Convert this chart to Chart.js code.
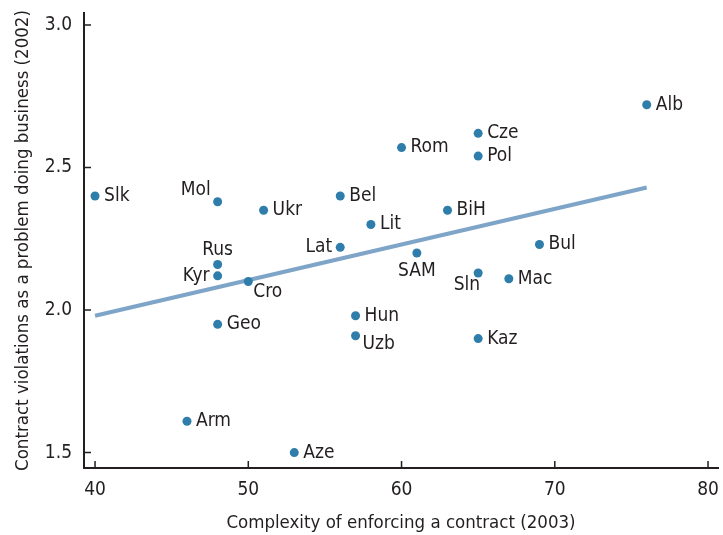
<!DOCTYPE html>
<html>
<head>
<meta charset="utf-8" />
<title>Contract violations vs complexity</title>
<script src="https://cdn.jsdelivr.net/npm/chart.js"></script>
<style>
	html, body { margin: 0; padding: 0; background: #fff; }
	#wrap { width: 723px; height: 535px; }
</style>
<script>
	// data
	const countries = ["Slk", "Mol", "Rus", "Kyr", "Cro", "Geo", "Arm", "Aze", "Ukr", "Bel", "Lit", "Lat",
		"SAM", "BiH", "Rom", "Cze", "Pol", "Alb", "Bul", "Sln", "Mac", "Hun", "Uzb", "Kaz"];
	const complexity = [40, 48, 48, 48, 50, 48, 46, 53, 51, 56, 58, 56,
		61, 63, 60, 65, 65, 76, 69, 65, 67, 57, 57, 65];
	const violations = [2.40, 2.38, 2.16, 2.12, 2.10, 1.95, 1.61, 1.50, 2.35, 2.40, 2.30, 2.22,
		2.20, 2.35, 2.57, 2.62, 2.54, 2.72, 2.23, 2.13, 2.11, 1.98, 1.91, 1.90];
	const trendX = [40, 76];
	const trendY = [1.98, 2.43];
	const xTicks = [40, 50, 60, 70, 80];
	const yTicks = [1.5, 2.0, 2.5, 3.0];

	// where each label sits relative to its dot (default: right)
	const labelPlace = {
		Mol: [-7, -12, "right"],
		Rus: [0, -14, "center"],
		Kyr: [-8, 0, "right"],
		Lat: [-8, 0, "right"],
		SAM: [0, 18, "center"],
		Sln: [2, 12, "right"],
		Cro: [5, 11, "left"],
		Uzb: [7, 8, "left"]
	};

	const FONT = '"Liberation Sans Narrow", "DejaVu Sans Condensed", sans-serif';
	const INK = "#231f20";

	document.addEventListener("DOMContentLoaded", function () {
		const points = countries.map((c, i) => ({ x: complexity[i], y: violations[i] }));
		const trend = trendX.map((x, i) => ({ x: x, y: trendY[i] }));

		const labelPlugin = {
			id: "pointLabels",
			afterDatasetsDraw(chart) {
				const ctx = chart.ctx;
				const meta = chart.getDatasetMeta(1);
				ctx.save();
				ctx.font = "19px " + FONT;
				ctx.fillStyle = INK;
				ctx.textBaseline = "middle";
				meta.data.forEach((el, i) => {
					const name = countries[i];
					const p = labelPlace[name] || [9, 0, "left"];
					ctx.textAlign = p[2];
					ctx.fillText(name, el.x + p[0], el.y + p[1]);
				});
				ctx.restore();
			}
		};

		// short tick marks pointing into the plot
		const innerTicks = {
			id: "innerTicks",
			afterDraw(chart) {
				const ctx = chart.ctx;
				const xs = chart.scales.x, ys = chart.scales.y;
				ctx.save();
				ctx.strokeStyle = INK;
				ctx.lineWidth = 1.5;
				ctx.beginPath();
				xTicks.forEach(v => {
					const px = xs.getPixelForValue(v);
					ctx.moveTo(px, ys.bottom);
					ctx.lineTo(px, ys.bottom - 7);
				});
				yTicks.forEach(v => {
					const py = ys.getPixelForValue(v);
					ctx.moveTo(xs.left, py);
					ctx.lineTo(xs.left + 7, py);
				});
				ctx.stroke();
				ctx.restore();
			}
		};

		new Chart(document.getElementById("chart"), {
			type: "scatter",
			data: {
				datasets: [
					{
						type: "line",
						data: trend,
						borderColor: "#7ea5c7",
						borderWidth: 4,
						pointRadius: 0,
						fill: false,
						order: 2
					},
					{
						data: points,
						backgroundColor: "#2f7dab",
						borderWidth: 0,
						pointRadius: 4.5,
						order: 1
					}
				]
			},
			options: {
				responsive: false,
				animation: false,
				layout: { padding: { top: 13, right: 5, left: 0, bottom: 0 } },
				plugins: { legend: { display: false }, tooltip: { enabled: false } },
				scales: {
					x: {
						type: "linear",
						min: 39.28,
						max: 80.65,
						afterFit(s) { s.height = 67; s.paddingLeft = 0; s.paddingRight = 0; },
						afterBuildTicks(s) { s.ticks = xTicks.map(v => ({ value: v })); },
						grid: { display: false },
						border: { color: INK, width: 2 },
						ticks: { color: INK, font: { family: FONT, size: 19 }, padding: 3 },
						title: {
							display: true,
							text: "Complexity of enforcing a contract (2003)",
							color: INK,
							font: { family: FONT, size: 18.5 },
							padding: { top: 0, bottom: 1 }
						}
					},
					y: {
						min: 1.446,
						max: 3.042,
						afterFit(s) { s.width = 84; s.paddingTop = 0; s.paddingBottom = 0; },
						afterBuildTicks(s) { s.ticks = yTicks.map(v => ({ value: v })); },
						grid: { display: false },
						border: { color: INK, width: 2 },
						ticks: {
							color: INK,
							font: { family: FONT, size: 19 },
							padding: 4,
							callback: v => v.toFixed(1)
						},
						title: {
							display: true,
							text: "Contract violations as a problem doing business (2002)",
							color: INK,
							font: { family: FONT, size: 18.5 },
							padding: { top: 12, bottom: 0 }
						}
					}
				}
			},
			plugins: [labelPlugin, innerTicks]
		});
	});
</script>
</head>
<body>
	<div id="wrap"><canvas id="chart" width="723" height="535"></canvas></div>
</body>
</html>
